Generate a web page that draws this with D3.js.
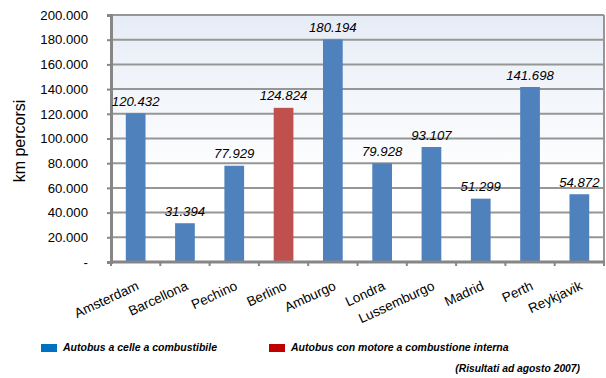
<!DOCTYPE html>
<html><head><meta charset="utf-8">
<script src="https://cdn.jsdelivr.net/npm/d3@7"></script>
<style>body{margin:0;background:#fff}svg{display:block;font-family:"Liberation Sans",Arial,sans-serif}</style>
</head><body><svg id="c" width="606" height="378"></svg>
<script>
const categories=["Amsterdam","Barcellona","Pechino","Berlino","Amburgo","Londra","Lussemburgo","Madrid","Perth","Reykjavik"];
const values=[120432,31394,77929,124824,180194,79928,93107,51299,141698,54872];
const series=["fc","fc","fc","ice","fc","fc","fc","fc","fc","fc"];
const yTicks=[0,20000,40000,60000,80000,100000,120000,140000,160000,180000,200000];
const legendLabels=["Autobus a celle a combustibile","Autobus con motore a combustione interna"];
const note="(Risultati ad agosto 2007)";
const yTitle="km percorsi";

const svg=d3.select("#c");
const m={l:111,r:604,t:15,b:262};
const x=d3.scaleBand().domain(categories).range([m.l,m.r]).paddingInner(0.6).paddingOuter(0.3);
const y=d3.scaleLinear().domain([0,200000]).range([m.b,m.t]);
const fmt=v=>v===0?"-":d3.format(",")(v).replace(/,/g,".");
const barColor={fc:"#4f81bd",ice:"#c0504d"};
const legColor={fc:"#0070c0",ice:"#c00000"};

const defs=svg.append("defs");
const g=defs.append("linearGradient").attr("id","bg").attr("x1",0).attr("y1",0).attr("x2",0).attr("y2",1);
g.append("stop").attr("offset","0%").attr("stop-color","#e6ecf6");
g.append("stop").attr("offset","65%").attr("stop-color","#ffffff");
g.append("stop").attr("offset","100%").attr("stop-color","#ffffff");
svg.append("rect").attr("x",m.l).attr("y",m.t).attr("width",m.r-m.l).attr("height",m.b-m.t).attr("fill","url(#bg)");

// gridlines
svg.append("g").selectAll("line").data(yTicks.slice(1)).join("line")
 .attr("x1",m.l).attr("x2",m.r).attr("y1",d=>y(d)).attr("y2",d=>y(d))
 .attr("stroke","#969696").attr("stroke-width",2);
svg.append("line").attr("x1",m.r).attr("x2",m.r).attr("y1",m.t).attr("y2",m.b).attr("stroke","#969696").attr("stroke-width",2);

// y axis
const ya=svg.append("g").attr("transform",`translate(${m.l},0)`)
 .call(d3.axisLeft(y).tickValues(yTicks).tickFormat(fmt).tickSize(4).tickPadding(19));
ya.select(".domain").attr("stroke","#868686").attr("stroke-width",3);
ya.selectAll(".tick line").attr("stroke","#868686").attr("stroke-width",2);
ya.selectAll("text").attr("font-size",13.2).attr("fill","#000").attr("font-family","Liberation Sans, Arial, sans-serif");

// bars
svg.append("g").selectAll("rect").data(categories).join("rect")
 .attr("x",d=>x(d)).attr("width",x.bandwidth())
 .attr("y",(d,i)=>y(values[i])).attr("height",(d,i)=>m.b-y(values[i]))
 .attr("fill",(d,i)=>barColor[series[i]]);

// x axis
const step=x.step();
svg.append("line").attr("x1",m.l).attr("x2",m.r+1).attr("y1",m.b).attr("y2",m.b).attr("stroke","#868686").attr("stroke-width",3);
const tickXs=d3.range(categories.length+1).map(i=>m.l+i*step);
svg.append("g").selectAll("line").data(tickXs).join("line")
 .attr("x1",d=>d).attr("x2",d=>d).attr("y1",m.b).attr("y2",m.b+4).attr("stroke","#868686").attr("stroke-width",2);

svg.append("g").selectAll("text").data(categories).join("text")
 .attr("transform",d=>`translate(${x(d)+x.bandwidth()/2+4},${m.b+27}) rotate(-25)`)
 .attr("text-anchor","end").attr("font-size",13.5).text(d=>d);

// data labels
svg.append("g").selectAll("text").data(categories).join("text")
 .attr("x",d=>x(d)+x.bandwidth()/2).attr("y",(d,i)=>y(values[i])-7.5)
 .attr("text-anchor","middle").attr("font-size",13.2).attr("font-style","italic")
 .text((d,i)=>fmt(values[i]));

// y title
svg.append("text").attr("transform","translate(25,141) rotate(-90)").attr("text-anchor","middle")
 .attr("font-size",16).text(yTitle);

// legend
const leg=[{k:"fc",x:41,tx:63},{k:"ice",x:269,tx:291}];
leg.forEach((l,i)=>{
 svg.append("rect").attr("x",l.x).attr("y",344).attr("width",16).attr("height",8).attr("fill",legColor[l.k]);
 svg.append("text").attr("x",l.tx).attr("y",350.5).attr("font-size",10.5).attr("font-weight","bold").attr("font-style","italic").text(legendLabels[i]);
});
svg.append("text").attr("x",580).attr("y",372).attr("text-anchor","end").attr("font-size",10.3).attr("font-weight","bold").attr("font-style","italic").text(note);
</script></body></html>
